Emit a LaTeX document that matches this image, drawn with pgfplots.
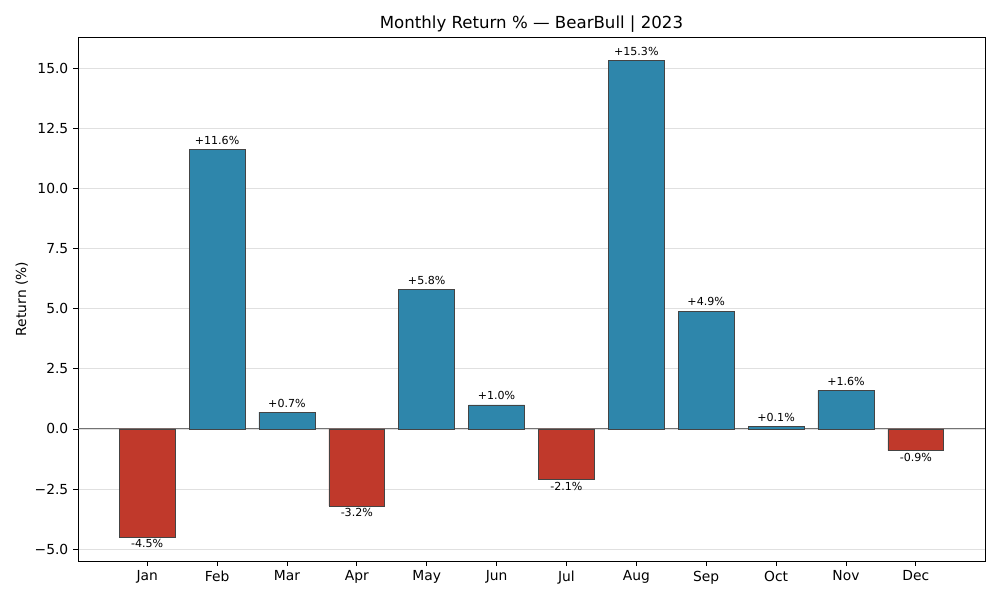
\documentclass[border=0pt]{standalone}
\usepackage{pgfplots}
\pgfplotsset{compat=1.18}
\usepackage{fontspec}
\setmainfont{DejaVu Sans}
\definecolor{barblue}{HTML}{2E86AB}
\definecolor{barred}{HTML}{C0392B}
\definecolor{edgec}{HTML}{444444}
\begin{document}
\begin{tikzpicture}
\begin{axis}[
  at={(0,0)}, anchor=south west,
  scale only axis, width=9.07in, height=5.24in,
  xmin=-0.99, xmax=11.99, ymin=-5.49, ymax=16.29,
  xtick={0,1,2,3,4,5,6,7,8,9,10,11},
  xticklabels={Jan,Feb,Mar,Apr,May,Jun,Jul,Aug,Sep,Oct,Nov,Dec},
  ytick={-5,-2.5,0,2.5,5,7.5,10,12.5,15},
  yticklabels={−5.0,−2.5,0.0,2.5,5.0,7.5,10.0,12.5,15.0},
  tick align=outside, major tick length=3.5pt,
  tick style={black, line width=0.6pt},
  xtick pos=bottom, ytick pos=left,
  ymajorgrids, grid style={color=black!12, line width=0.6pt},
  axis line style={line width=0.6pt},
  tick label style={font=\fontsize{10}{12}\selectfont},
  title={Monthly Return \% — BearBull | 2023},
  title style={font=\fontsize{12}{14}\selectfont, yshift=-6.5pt},
  ylabel={Return (\%)},
  ylabel style={font=\fontsize{10}{12}\selectfont, xshift=0pt, yshift=-2pt},
  bar width=0.8, bar shift=0pt,
  nodes near coords,
  point meta=explicit symbolic,
  every node near coord/.style={font=\fontsize{8}{9}\selectfont, inner sep=1.5pt},
]
\draw[color=black!55, line width=0.7pt] (axis cs:-0.99,0) -- (axis cs:11.99,0);
\addplot[ybar, fill=barblue, draw=edgec, line width=0.5pt,
  every node near coord/.append style={anchor=south, yshift=1.8pt}]
  table[meta=l] {
x y l
1 11.6 +11.6\%
2 0.7 +0.7\%
4 5.8 +5.8\%
5 1.0 +1.0\%
7 15.3 +15.3\%
8 4.9 +4.9\%
9 0.1 +0.1\%
10 1.6 +1.6\%
};
\addplot[ybar, fill=barred, draw=edgec, line width=0.5pt,
  every node near coord/.append style={anchor=north, yshift=0pt}]
  table[meta=l] {
x y l
0 -4.5 -4.5\%
3 -3.2 -3.2\%
6 -2.1 -2.1\%
11 -0.9 -0.9\%
};
\end{axis}
\path[use as bounding box] (-0.78in,-0.39in) rectangle (9.22in,5.61in);
\end{tikzpicture}
\end{document}
